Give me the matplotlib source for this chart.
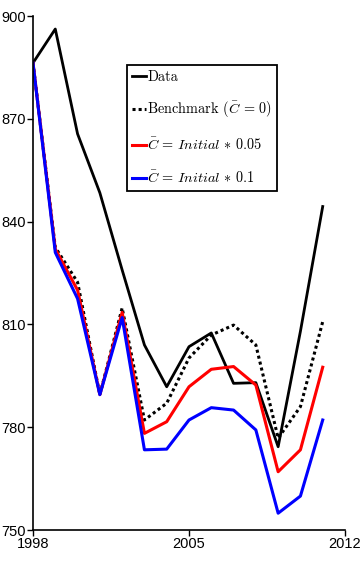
import matplotlib
matplotlib.use("Agg")
import matplotlib.pyplot as plt

# values
years = list(range(1998, 2012))
data = [886.3, 896.2, 865.6, 848.4, 825.9, 804.0, 791.8, 803.5, 807.5, 792.8, 793.0, 774.3, 808.0, 844.4]
benchmark = [886.3, 832.5, 822.3, 789.5, 814.8, 782.1, 787.0, 800.2, 806.9, 809.8, 804.0, 776.8, 786.0, 810.8]
c005 = [886.3, 832.0, 820.0, 789.5, 813.5, 778.2, 781.6, 791.8, 796.9, 797.7, 792.3, 767.0, 773.4, 797.5]
c01 = [886.3, 831.0, 817.5, 789.5, 812.0, 773.4, 773.6, 782.1, 785.7, 785.0, 779.2, 754.9, 759.9, 782.1]

plt.rcParams['mathtext.fontset'] = 'cm'

fig = plt.figure(figsize=(3.6, 5.64), dpi=100)
ax = fig.add_axes([33/360, 1-530/564, 312/360, 514/564])

ax.plot(years, data, color='black', lw=2.0, label='Data')
ax.plot(years, benchmark, color='black', lw=2.2, linestyle=(0, (1, 1)),
        label=r'Benchmark $(\bar{C}\,=\,0)$')
ax.plot(years, c005, color='#ff0000', lw=2.2, label=r'$\bar{C}\,=\,Initial\,\ast\,0.05$')
ax.plot(years, c01, color='#0000ff', lw=2.2, label=r'$\bar{C}\,=\,Initial\,\ast\,0.1$')

ax.set_xlim(1998, 2012)
ax.set_ylim(750, 900)
ax.set_xticks([1998, 2005, 2012])
ax.set_yticks([750, 780, 810, 840, 870, 900])
for s in ['top', 'right']:
    ax.spines[s].set_visible(False)
for s in ['left', 'bottom']:
    ax.spines[s].set_linewidth(1.2)
ax.tick_params(direction='out', length=4, width=1, labelsize=10.5, pad=1)
for lab in ax.get_xticklabels() + ax.get_yticklabels():
    lab.set_family('Liberation Sans')

leg = ax.legend(loc='upper left', bbox_to_anchor=(0.30, 0.905),
                prop={'family': 'cmr10', 'size': 10.3}, handlelength=1.0,
                handletextpad=0.1, labelspacing=1.15, borderpad=0.35,
                borderaxespad=0, fancybox=False, framealpha=1)
leg.get_frame().set_edgecolor('black')
leg.get_frame().set_linewidth(1.3)

fig.savefig('out.png', dpi=100)
